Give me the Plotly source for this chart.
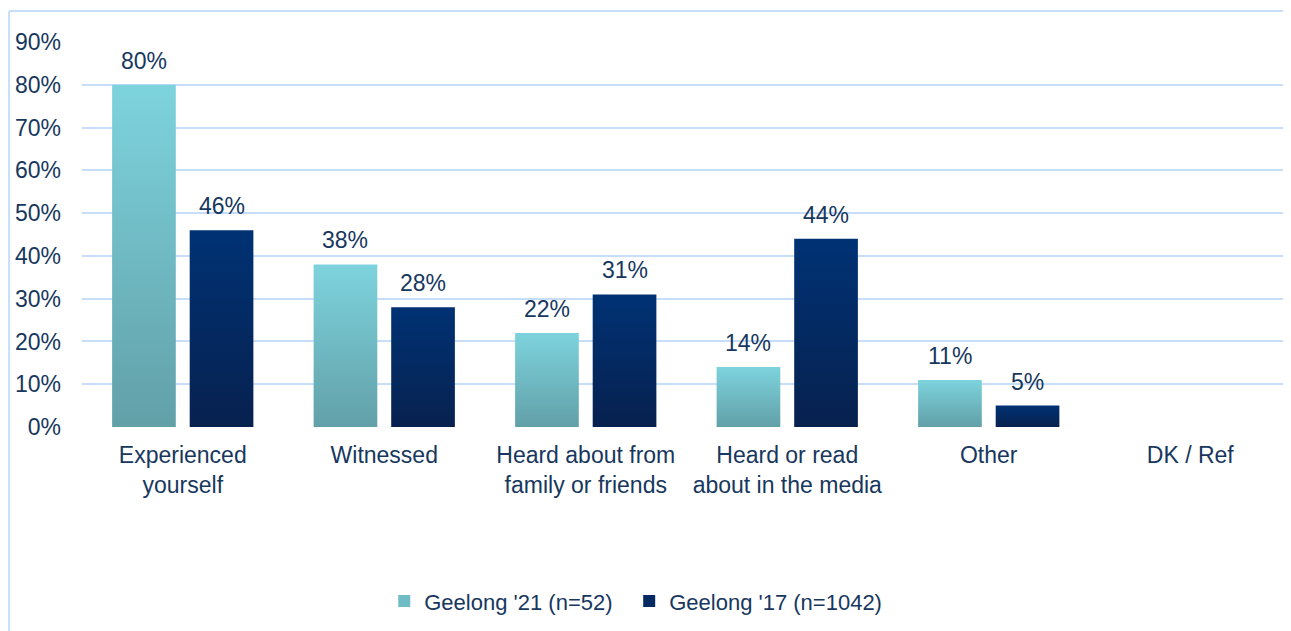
import plotly.graph_objects as go

categories = ["Experienced<br>yourself", "Witnessed", "Heard about from<br>family or friends",
              "Heard or read<br>about in the media", "Other", "DK / Ref"]
geelong_21 = [80, 38, 22, 14, 11, None]
geelong_17 = [46, 28, 31, 44, 5, None]
series_names = ["Geelong '21 (n=52)", "Geelong '17 (n=1042)"]
y_ticks = [0, 10, 20, 30, 40, 50, 60, 70, 80, 90]

text_color = "#17375e"
grid_color = "#c6defa"
light_scale = [[0, "#62a0a8"], [1, "#7dd3dd"]]
dark_scale = [[0, "#07214f"], [1, "#003274"]]
legend_colors = ["#70bcc6", "#052a62"]

fig = go.Figure()

half_w = 0.158
offset = 0.1925

for k, (name, vals, scale, shift) in enumerate([
        (series_names[0], geelong_21, light_scale, -offset),
        (series_names[1], geelong_17, dark_scale, offset)]):
    # legend entry (square swatch), each series in its own legend box
    fig.add_trace(go.Bar(x=[None], y=[None], name=name, legendgroup=name,
                         legend="legend" if k == 0 else "legend2",
                         marker=dict(color=legend_colors[k], line=dict(width=0))))
    for i, v in enumerate(vals):
        if v is None:
            continue
        cx = i + shift
        fig.add_trace(go.Scatter(
            x=[cx - half_w, cx - half_w, cx + half_w, cx + half_w, cx - half_w],
            y=[0, v, v, 0, 0],
            mode="none", fill="toself",
            fillgradient=dict(type="vertical", colorscale=scale),
            name=name, legendgroup=name, showlegend=False,
            hoverinfo="skip",
        ))
        fig.add_annotation(x=cx, y=v, text=f"{v}%", showarrow=False,
                           yanchor="bottom", yshift=9,
                           font=dict(size=23, color=text_color))

legend_style = dict(orientation="h", xanchor="left", y=-0.398, yanchor="top",
                    font=dict(size=22, color=text_color), itemwidth=30,
                    bgcolor="rgba(0,0,0,0)")

fig.update_layout(
    width=1283, height=623,
    margin=dict(l=74, r=0, t=34, b=204),
    paper_bgcolor="white", plot_bgcolor="white",
    font=dict(family="Liberation Sans, Arial", size=23, color=text_color),
    showlegend=True,
    legend=dict(x=0.25, **legend_style),
    legend2=dict(x=0.4526, **legend_style),
    xaxis=dict(range=[-0.5, 5.5], tickvals=list(range(len(categories))),
               ticktext=categories, showgrid=False, zeroline=False,
               showline=False, ticks="", ticklabelstandoff=12, fixedrange=True),
    yaxis=dict(range=[0, 90], tickvals=y_ticks,
               ticktext=[f"{t}%" for t in y_ticks],
               showgrid=True, gridcolor=grid_color, gridwidth=2,
               zeroline=False, showline=False, ticks="",
               ticklabelstandoff=20, fixedrange=True),
    shapes=[
        dict(type="line", xref="paper", yref="paper", x0=-0.0603, x1=1.01,
             y0=1.0805, y1=1.0805, line=dict(color=grid_color, width=2)),
        dict(type="line", xref="paper", yref="paper", x0=-0.0603, x1=-0.0603,
             y0=-0.6, y1=1.0805, line=dict(color=grid_color, width=2)),
    ],
)

fig.write_html("out.html")
